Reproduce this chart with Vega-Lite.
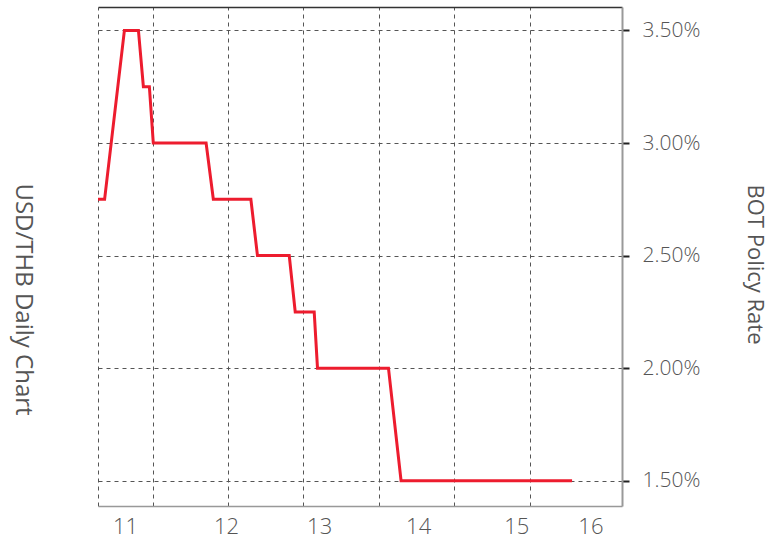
{
  "$schema": "https://vega.github.io/schema/vega-lite/v6.json",
  "width": 524,
  "height": 499,
  "autosize": "none",
  "padding": {"left": 98, "top": 7, "right": 156, "bottom": 34},
  "background": "white",
  "config": {
    "view": {"stroke": null},
    "font": "Open Sans",
    "axis": {
      "labelFont": "Open Sans",
      "titleFont": "Open Sans",
      "labelColor": "#555555",
      "titleColor": "#555555",
      "titleFontWeight": "normal",
      "labelFontWeight": 300,
      "gridColor": "#555555",
      "gridWidth": 1,
      "gridOpacity": 1
    }
  },
  "data": {
    "values": [
      {"date": "2011-04-11", "rate": 2.75},
      {"date": "2011-05-13", "rate": 2.75},
      {"date": "2011-08-17", "rate": 3.5},
      {"date": "2011-10-24", "rate": 3.5},
      {"date": "2011-11-17", "rate": 3.25},
      {"date": "2011-12-16", "rate": 3.25},
      {"date": "2012-01-04", "rate": 3.0},
      {"date": "2012-09-16", "rate": 3.0},
      {"date": "2012-10-21", "rate": 2.75},
      {"date": "2013-04-21", "rate": 2.75},
      {"date": "2013-05-23", "rate": 2.5},
      {"date": "2013-10-24", "rate": 2.5},
      {"date": "2013-11-22", "rate": 2.25},
      {"date": "2014-02-22", "rate": 2.25},
      {"date": "2014-03-10", "rate": 2.0},
      {"date": "2015-02-17", "rate": 2.0},
      {"date": "2015-04-19", "rate": 1.5},
      {"date": "2017-07-26", "rate": 1.5}
    ]
  },
  "layer": [
    {
      "mark": {"type": "line", "opacity": 0},
      "encoding": {
        "x": {
          "field": "date",
          "type": "temporal",
          "scale": {"domain": [{"year": 2011, "month": 4, "date": 11}, {"year": 2018, "month": 3, "date": 25}]},
          "axis": {
            "orient": "top",
            "title": null,
            "labels": false,
            "ticks": false,
            "tickSize": 0,
            "domain": true,
            "domainColor": "#333333",
            "domainWidth": 1.5,
            "grid": true,
            "gridDash": [4, 4],
            "values": [
              {"year": 2011, "month": 4, "date": 11},
              {"year": 2012, "month": 1, "date": 1},
              {"year": 2013, "month": 1, "date": 1},
              {"year": 2014, "month": 1, "date": 1},
              {"year": 2015, "month": 1, "date": 1},
              {"year": 2016, "month": 1, "date": 1},
              {"year": 2017, "month": 1, "date": 1}
            ]
          }
        },
        "y": {
          "field": "rate",
          "type": "quantitative",
          "scale": {"domain": [1.388, 3.604], "nice": false, "zero": false},
          "axis": {
            "orient": "left",
            "title": "USD/THB Daily Chart",
            "labels": false,
            "ticks": false,
            "domain": false,
            "grid": false,
            "titleFontSize": 24,
            "titleAngle": 90,
            "titleAlign": "center",
            "titleBaseline": "middle",
            "titleX": -76,
            "titleY": 292
          }
        }
      }
    },
    {
      "mark": {"type": "line", "color": "#ED1C2E", "strokeWidth": 3, "strokeJoin": "miter"},
      "encoding": {
        "x": {
          "field": "date",
          "type": "temporal",
          "axis": {
            "orient": "bottom",
            "title": null,
            "grid": false,
            "ticks": false,
            "tickSize": 0,
            "domain": true,
            "domainColor": "#999999",
            "domainWidth": 1.5,
            "labelFontSize": 22,
            "labelPadding": 10,
            "labelAlign": "center",
            "labelBaseline": "top",
            "labelOverlap": false,
            "labelBound": false,
            "labelFlush": false,
            "values": [
              {"year": 2011, "month": 8, "date": 20},
              {"year": 2012, "month": 12, "date": 22},
              {"year": 2014, "month": 3, "date": 18},
              {"year": 2015, "month": 7, "date": 11},
              {"year": 2016, "month": 10, "date": 29},
              {"year": 2017, "month": 10, "date": 23}
            ],
            "labelExpr": "['11','12','','13','14','15','16'][year(datum.value) - 2011]"
          }
        },
        "y": {
          "field": "rate",
          "type": "quantitative",
          "axis": {
            "orient": "right",
            "title": "BOT Policy Rate",
            "values": [1.5, 2.0, 2.5, 3.0, 3.5],
            "labelExpr": "format(datum.value, '.2f') + '%'",
            "labelFontSize": 21,
            "labelPadding": 13,
            "labelAlign": "left",
            "ticks": true,
            "tickSize": 7,
            "tickWidth": 2,
            "tickColor": "#222222",
            "domain": true,
            "domainColor": "#999999",
            "domainWidth": 2,
            "grid": true,
            "gridDash": [4, 4],
            "titleFontSize": 22,
            "titleAngle": 90,
            "titleAlign": "center",
            "titleBaseline": "middle",
            "titleX": 132,
            "titleY": 257
          }
        }
      }
    }
  ],
  "resolve": {"axis": {"x": "independent", "y": "independent"}}
}
